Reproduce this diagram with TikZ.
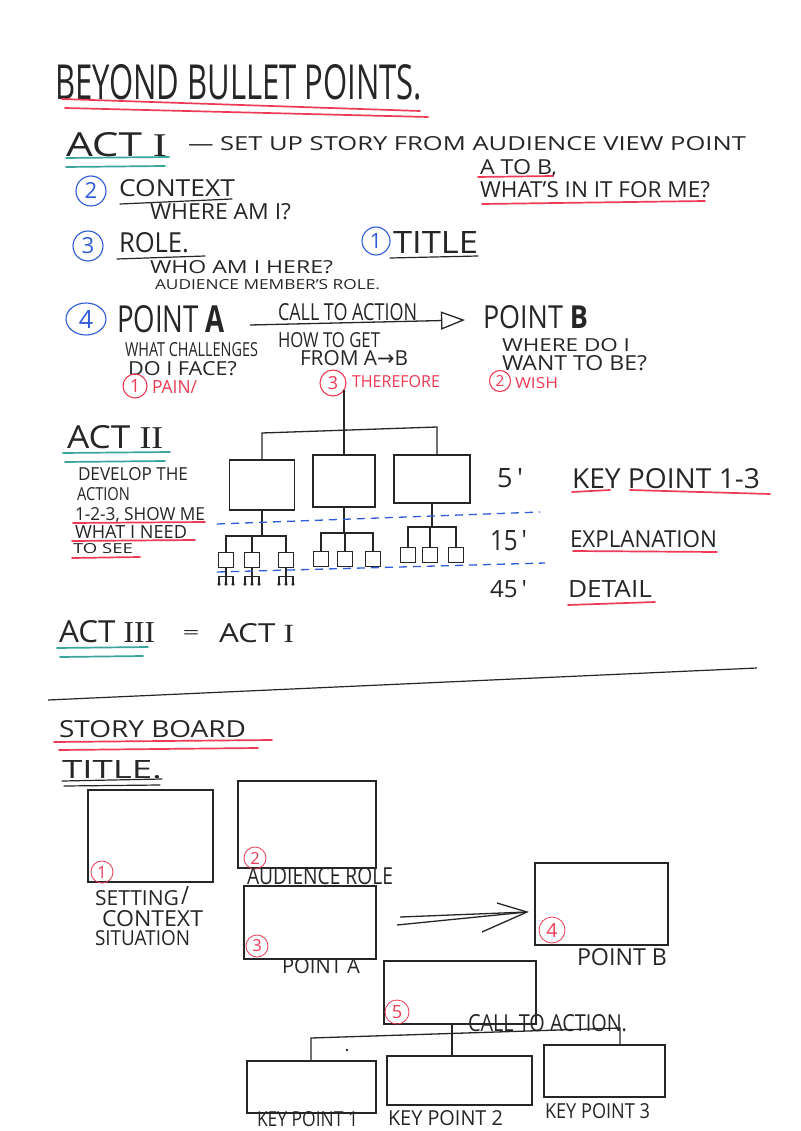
\documentclass[tikz,border=0pt]{standalone}
\usepackage{graphicx}
\usepackage{fontspec}
\setmainfont{Open Sans}
\newfontfamily\rmnum{Liberation Serif}
\newfontfamily\djv{DejaVu Sans}
\usetikzlibrary{arrows.meta,shapes.geometric,calc}
\definecolor{ink}{HTML}{262626}
\definecolor{penred}{HTML}{EE3B55}
\definecolor{penblue}{HTML}{2E5BD8}
\definecolor{penteal}{HTML}{3AA59C}
\newcommand\hw[7][ink]{\node[anchor=base west,inner sep=0pt,outer sep=0pt,text=#1] (#2) at (#3,#4) {\resizebox{#5pt}{#6pt}{#7}};}
\newcommand\cnum[7]{\node[numring=#2,minimum size=#5pt] (#1) at (#3,#4) {\resizebox{!}{#6pt}{#7}};}
\tikzset{
  numring/.style={circle,draw=#1,text=#1,line width=1.1pt,inner sep=0pt},
  sketchbox/.style={draw=ink,line width=1.4pt,inner sep=0pt},
  wire/.style={draw=ink,line width=1.3pt},
  uline/.style={line width=1.7pt,line cap=round},
  blued/.style={draw=penblue,line width=1.3pt,dash pattern=on 8pt off 6pt},
}
\begin{document}
\begin{tikzpicture}[x=1pt,y=-1pt]
\useasboundingbox (0,0) rectangle (800,1131);
\fill[white] (0,0) rectangle (800,1131);

% ---------- title ----------
\hw{title}{55}{100}{367}{35}{BEYOND BULLET POINTS.}
\draw[uline,penred] (62,99) -- (420,111);
\draw[uline,penred] (65,108) -- (428,117);

% ---------- Act I ----------
\hw{act1}{66}{157}{101}{24}{ACT {\rmnum I}}
\draw[uline,penteal] (66,158) -- (169,157);
\draw[uline,penteal] (66,167) -- (165,166);
\hw{setup}{188}{151}{558}{14}{— SET UP STORY FROM AUDIENCE VIEW POINT}
\hw{atob}{480}{175}{77}{15}{A TO B,}
\draw[uline,penred] (478,177) -- (553,176);
\hw{wiifm}{480}{198}{230}{16}{WHAT'S IN IT FOR ME?}
\draw[uline,penred] (482,204) -- (705,201);

\cnum{c2}{penblue}{91}{191}{30}{16}{2}
\hw{context}{119}{197}{116}{17}{CONTEXT}
\draw[uline,ink,line width=1.2pt] (120,204) -- (232,199);
\hw{where}{150}{220}{141}{16}{WHERE AM I?}

\cnum{c3}{penblue}{88}{246}{30}{16}{3}
\hw{role}{119}{253}{70}{20}{ROLE.}
\draw[uline,ink,line width=1.2pt] (117,259) -- (205,256);
\hw{who}{150}{273}{183}{13}{WHO AM I HERE?}
\hw{aud}{155}{289}{225}{10}{AUDIENCE MEMBER'S ROLE.}

\cnum{c1}{penblue}{376}{241}{28}{15}{1}
\hw{titletxt}{393}{254}{85}{22}{TITLE}
\draw[uline,ink,line width=1.2pt] (390,258) -- (478,256);

\node[ellipse,draw=penblue,text=penblue,line width=1.1pt,inner sep=0pt,minimum width=40pt,minimum height=32pt] (c4) at (86,319) {\resizebox{!}{18pt}{4}};
\hw{pointa}{117}{332}{108}{27}{POINT {\bfseries A}}
\hw{cta}{278}{320}{139}{17}{CALL TO ACTION}
\hw{pointb}{483}{328}{105}{23}{POINT {\bfseries B}}
\draw[wire,-{Triangle[open,length=24pt,width=18pt,line width=1.3pt]}] ($(pointa.base east)+(25,-7)$) -- ($(pointb.base west)+(-18,-8)$);
\hw{howto}{278}{347}{102}{15}{HOW TO GET}
\hw{froma}{300}{365}{108}{15}{FROM A{\djv →}B}
\hw{chall}{125}{356}{133}{14}{WHAT CHALLENGES}
\hw{face}{128}{375}{109}{14}{DO I FACE?}
\hw{wheredo}{502}{351}{128}{13}{WHERE DO I}
\hw{wantto}{502}{370}{145}{15}{WANT TO BE?}

\cnum{r1}{penred}{135}{386}{24}{13}{1}
\hw[penred]{pain}{152}{393}{45}{13}{PAIN/}
\cnum{r3}{penred}{333}{383}{26}{13}{3}
\hw[penred]{therefore}{352}{387}{88}{12}{THEREFORE}
\cnum{r2}{penred}{500}{381}{21}{11}{2}
\hw[penred]{wish}{515}{388}{43}{11}{WISH}

% ---------- Act II ----------
\hw{act2}{67}{448}{96}{23}{ACT {\rmnum II}}
\draw[uline,penteal] (63,453) -- (170,452);
\draw[uline,penteal] (65,462) -- (165,461);
\hw{dev}{78}{480}{110}{13}{DEVELOP THE}
\hw{action}{77}{500}{53}{13}{ACTION}
\hw{show}{75}{520}{130}{13}{1-2-3, SHOW ME}
\draw[uline,penred] (73,523) -- (205,522);
\hw{need}{75}{538}{112}{13}{WHAT I NEED}
\draw[uline,penred] (72,541) -- (195,540);
\hw{see}{73}{553}{60}{10}{TO SEE}
\draw[uline,penred] (72,558) -- (140,557);

\node[sketchbox,minimum width=65pt,minimum height=50pt] (b1) at (262,485) {};
\node[sketchbox,minimum width=62pt,minimum height=52pt] (b2) at (344,481) {};
\node[sketchbox,minimum width=76pt,minimum height=48pt] (b3) at (432,479) {};
\coordinate (t0) at (344,390);
\coordinate (tl) at (262,433);
\coordinate (tr) at (437,427);
\draw[wire] (t0) -- (t0 |- b2.north);
\draw[wire] (b1.north -| tl) -- (tl) -- (tr) -- (tr |- b3.north);

\foreach \n/\x/\y in {s11/226/560,s12/252/560,s13/286/560,s21/321/559,s22/345/559,s23/373/559,s31/408/555,s32/430/555,s33/456/555}
  \node[sketchbox,line width=1.3pt,minimum width=15pt,minimum height=15pt] (\n) at (\x,\y) {};
\coordinate (g1) at (0,536);
\coordinate (g2) at (0,533);
\coordinate (g3) at (0,527);
\draw[wire] (b1.south) -- (b1.south |- g1);
\draw[wire] (s11.north) -- (s11.north |- g1) -- (s13.north |- g1) -- (s13.north);
\draw[wire] (s12.north) -- (s12.north |- g1);
\draw[wire] (b2.south) -- (b2.south |- g2);
\draw[wire] (s21.north) -- (s21.north |- g2) -- (s23.north |- g2) -- (s23.north);
\draw[wire] (s22.north) -- (s22.north |- g2);
\draw[wire] (b3.south) -- (b3.south |- g3);
\draw[wire] (s31.north) -- (s31.north |- g3) -- (s33.north |- g3) -- (s33.north);
\draw[wire] (s32.north) -- (s32.north |- g3);
\foreach \n in {s11,s12,s13}{
  \draw[wire,line width=1.1pt] (\n.south) -- ++(0,8) coordinate (\n m);
  \draw[wire,line width=1.1pt] ($(\n m)+(-7,0)$) -- ($(\n m)+(7,0)$);
  \foreach \dx in {-7,0,7}{
    \draw[wire,line width=1.1pt] ($(\n m)+(\dx,0)$) -- ++(0,8);
    \fill[ink] ($(\n m)+(\dx,8)$) circle (1.8pt);
  }
}
\coordinate (d1a) at (217,524);
\coordinate (d1b) at (540,512);
\coordinate (d2a) at (217,572);
\coordinate (d2b) at (545,563);
\draw[blued] (d1a) -- (d1b);
\draw[blued] (d2a) -- (d2b);

\hw{five}{497}{487}{26}{19}{5\,\textquotesingle}
\hw{kp13}{572}{488}{188}{20}{KEY POINT 1-3}
\draw[uline,penred] (572,492) -- (610,490);
\draw[uline,penred] (630,490) -- (770,494);
\hw{fifteen}{490}{550}{37}{20}{15\,\textquotesingle}
\hw{expl}{570}{547}{147}{17}{EXPLANATION}
\draw[uline,penred] (573,551) -- (717,552);
\hw{fortyfive}{490}{597}{37}{17}{45\,\textquotesingle}
\hw{detail}{568}{597}{84}{17}{DETAIL}
\draw[uline,penred] (568,605) -- (655,602);

% ---------- Act III ----------
\hw{act3}{59}{642}{96}{22}{ACT {\rmnum III}}
\draw[uline,penteal] (57,648) -- (148,647);
\draw[uline,penteal] (60,657) -- (143,656);
\node[inner sep=0pt,text=ink] (eq) at (191,634) {\resizebox{17pt}{8pt}{=}};
\hw{acti}{219}{642}{75}{19}{ACT {\rmnum I}}

\coordinate (sepL) at (48,700);
\coordinate (sepR) at (757,668);
\draw[wire,line width=1.2pt] (sepL) -- (sepR);

% ---------- Story board ----------
\hw{storyboard}{59}{737}{187}{17}{STORY BOARD}
\draw[uline,penred] (54,742) -- (272,740);
\draw[uline,penred] (59,750) -- (258,748);
\hw{title2}{62}{778}{100}{18}{TITLE.}
\draw[uline,ink,line width=1.2pt] (62,781) -- (162,779);
\draw[uline,ink,line width=1.2pt] (64,786) -- (160,785);

\node[sketchbox,minimum width=125pt,minimum height=92pt] (sb1) at (150.5,836) {};
\node[sketchbox,minimum width=138pt,minimum height=87pt] (sb2) at (307,824.5) {};
\node[sketchbox,minimum width=132pt,minimum height=73pt] (sb3) at (310,922.5) {};
\node[sketchbox,minimum width=133pt,minimum height=82pt] (sb4) at (601.5,904) {};
\node[sketchbox,minimum width=152pt,minimum height=63pt] (sb5) at (460,992.5) {};
\node[sketchbox,minimum width=129pt,minimum height=52pt] (kp1) at (311.5,1087) {};
\node[sketchbox,minimum width=145pt,minimum height=49pt] (kp2) at (459.5,1080.5) {};
\node[sketchbox,minimum width=121pt,minimum height=52pt] (kp3) at (604.5,1071) {};

\tikzset{rednum/.style={numring=penred,line width=0.8pt}}
\node[rednum,minimum size=22pt] (n1) at (102,872) {\resizebox{!}{12pt}{1}};
\node[rednum,minimum size=22pt] (n2) at (255,858) {\resizebox{!}{12pt}{2}};
\node[rednum,minimum size=22pt] (n3) at (257,946) {\resizebox{!}{12pt}{3}};
\node[rednum,minimum size=26pt] (n4) at (552,930) {\resizebox{!}{14pt}{4}};
\node[rednum,minimum size=24pt] (n5) at (397,1012) {\resizebox{!}{13pt}{5}};

\hw{setting}{95}{905}{84}{15}{SETTING}
\hw{slash}{181}{904}{8}{18}{/}
\hw{context2}{102}{926}{101}{16}{CONTEXT}
\hw{situation}{95}{945}{95}{15}{SITUATION}
\hw{audrole}{247}{884}{146}{17}{AUDIENCE ROLE}
\hw{pointa2}{282}{973}{78}{15}{POINT A}
\hw{pointb2}{577}{965}{90}{17}{POINT B}
\hw{cta2}{468}{1031}{159}{17}{CALL TO ACTION.}
\hw{kp1t}{257}{1126}{101}{15}{KEY POINT 1}
\hw{kp2t}{388}{1125}{115}{15}{KEY POINT 2}
\hw{kp3t}{545}{1118}{105}{15}{KEY POINT 3}

% arrow point A -> point B
\coordinate (aw1) at (397,925);
\coordinate (aw2) at (400,917);
\coordinate (atip) at (527,912);
\coordinate (ah1) at (497,903);
\coordinate (ah2) at (482,932);
\draw[wire] (aw1) -- (atip);
\draw[wire] (aw2) -- (atip);
\draw[wire] (ah1) -- (atip) -- (ah2);

% call to action tree
\coordinate (st) at (452,1033);
\coordinate (stl) at (311,1038);
\coordinate (str) at (620,1028);
\draw[wire] (st |- sb5.south) -- (st |- kp2.north);
\draw[wire] (stl |- kp1.north) -- (stl) -- (str) -- (str |- kp3.north);
\fill[ink] (347,1050) circle (1.3pt);
\end{tikzpicture}
\end{document}
